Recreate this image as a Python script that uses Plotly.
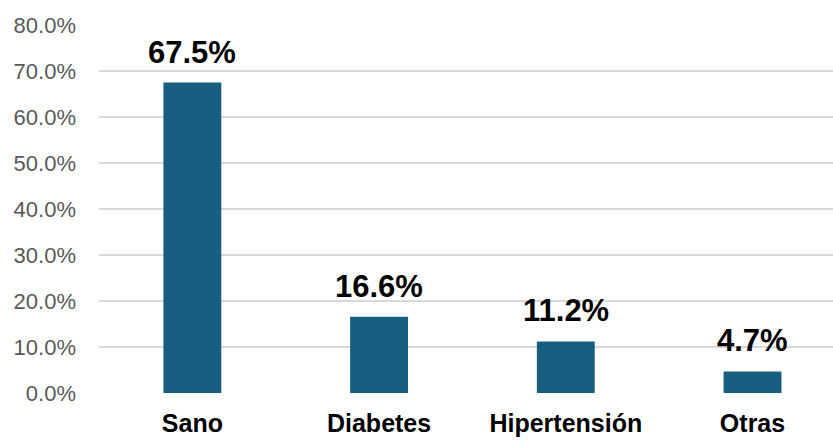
import plotly.graph_objects as go

categories = ["Sano", "Diabetes", "Hipertensión", "Otras"]
values = [67.5, 16.6, 11.2, 4.7]
tick_vals = [0, 10, 20, 30, 40, 50, 60, 70, 80]
tick_text = [f"{v:.1f}%" for v in tick_vals]
labels = [f"{v:.1f}%" for v in values]

BAR = "#175e81"
FONT = "Liberation Sans, Arial, sans-serif"

fig = go.Figure()
fig.add_trace(go.Bar(
    x=categories, y=values, width=0.31,
    marker=dict(color=BAR, line=dict(width=0)),
    hoverinfo="skip",
))

for c, v, t in zip(categories, values, labels):
    fig.add_annotation(
        x=c, y=v, text=f"<b>{t}</b>", showarrow=False,
        yanchor="bottom", yshift=11,
        font=dict(family=FONT, size=31, color="#000000"),
    )

fig.update_layout(
    width=833, height=443,
    margin=dict(l=99, r=0, t=25, b=50),
    paper_bgcolor="white", plot_bgcolor="white",
    showlegend=False,
    font=dict(family=FONT),
    xaxis=dict(
        range=[-0.5, 3.431], showgrid=False, zeroline=False, showline=False,
        tickfont=dict(family=FONT, size=25, color="#000000", weight="bold"),
        ticks="", ticklabelstandoff=13, automargin=False,
    ),
    yaxis=dict(
        range=[0, 80], tickvals=tick_vals, ticktext=tick_text,
        showgrid=True, gridcolor="#d9d9d9", gridwidth=1.5,
        zeroline=False, showline=False, ticks="",
        tickfont=dict(family=FONT, size=22, color="#595959"),
        ticklabelstandoff=22, automargin=False,
    ),
)

fig.write_html("out.html")
